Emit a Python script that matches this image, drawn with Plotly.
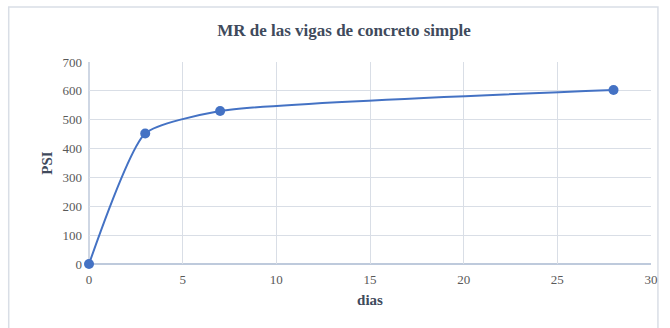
import plotly.graph_objects as go

# Modulus of rupture of plain concrete beams over curing age
dias = [0, 3, 7, 28]
psi = [0, 452, 530, 603]

x_ticks = [0, 5, 10, 15, 20, 25, 30]
y_ticks = [0, 100, 200, 300, 400, 500, 600, 700]

serif = "Liberation Serif, Times New Roman, serif"

fig = go.Figure()
fig.add_trace(go.Scatter(
    x=dias, y=psi,
    mode="lines+markers",
    line=dict(color="#4472C4", width=2, shape="spline", smoothing=0.55),
    marker=dict(color="#4472C4", size=10),
    showlegend=False,
    cliponaxis=False,
))

L, R, T, B = 89, 14, 62, 64
W, H = 670, 328
pw, ph = W - L - R, H - T - B

def px_x(p):
    return (p - L) / pw

def px_y(p):
    return (H - B - p) / ph

fig.update_layout(
    width=W, height=H,
    margin=dict(l=L, r=R, t=T, b=B),
    paper_bgcolor="white",
    plot_bgcolor="white",
    font=dict(family=serif, color="#595959", size=13),
    title=dict(
        text="<b>MR de las vigas de concreto simple</b>",
        x=344 / W, xanchor="center",
        y=1 - 30 / H, yanchor="middle",
        font=dict(family=serif, size=17, color="#404a5c"),
    ),
    xaxis=dict(
        range=[0, 30], tickvals=x_ticks,
        showgrid=True, gridcolor="#D9DEE6", gridwidth=1,
        zeroline=False, showline=False,
        ticks="", ticklabelstandoff=6,
        tickfont=dict(family=serif, size=13, color="#595959"),
        title=dict(text="<b>dias</b>", font=dict(family=serif, size=15, color="#404a5c"), standoff=8),
    ),
    yaxis=dict(
        range=[0, 700], tickvals=y_ticks,
        showgrid=True, gridcolor="#D9DEE6", gridwidth=1,
        zeroline=False, showline=False,
        ticks="", ticklabelstandoff=6,
        tickfont=dict(family=serif, size=13, color="#595959"),
        title=dict(text="<b>PSI</b>", font=dict(family=serif, size=15, color="#404a5c"), standoff=6),
    ),
    shapes=[
        # outer chart-area border
        dict(type="rect", xref="paper", yref="paper",
             x0=px_x(8), x1=px_x(663), y0=px_y(340), y1=px_y(7),
             line=dict(color="#D9DEE6", width=1.5), fillcolor="rgba(0,0,0,0)", layer="below"),
        # axis lines
        dict(type="line", xref="paper", yref="paper", x0=0, x1=1, y0=0, y1=0,
             line=dict(color="#A9B8D0", width=1.5), layer="below"),
        dict(type="line", xref="paper", yref="paper", x0=0, x1=0, y0=0, y1=1,
             line=dict(color="#BFCADB", width=1.5), layer="below"),
    ],
)

fig.write_html("out.html")
